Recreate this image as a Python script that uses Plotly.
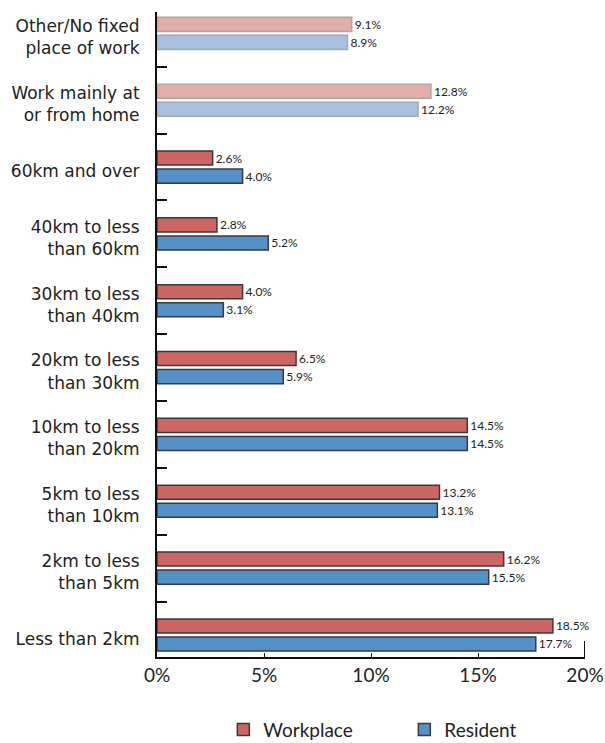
import plotly.graph_objects as go

# Data (top to bottom as shown)
categories = [
    "Other/No fixed<br>place of work",
    "Work mainly at<br>or from home",
    "60km and over",
    "40km to less<br>than 60km",
    "30km to less<br>than 40km",
    "20km to less<br>than 30km",
    "10km to less<br>than 20km",
    "5km to less<br>than 10km",
    "2km to less<br>than 5km",
    "Less than 2km",
]
workplace = [9.1, 12.8, 2.6, 2.8, 4.0, 6.5, 14.5, 13.2, 16.2, 18.5]
resident = [8.9, 12.2, 4.0, 5.2, 3.1, 5.9, 14.5, 13.1, 15.5, 17.7]
faded = [True, True, False, False, False, False, False, False, False, False]
x_ticks = [0, 5, 10, 15, 20]
x_tick_labels = ["0%", "5%", "10%", "15%", "20%"]

# plot bottom-to-top
cats = categories[::-1]
wp = workplace[::-1]
rs = resident[::-1]
fd = faded[::-1]

wp_col = ["#E3ADA8" if f else "#CB6662" for f in fd]
rs_col = ["#A9C1E1" if f else "#5591C8" for f in fd]
wp_line = ["#A8A8A8" if f else "#3A3A3A" for f in fd]
rs_line = ["#A8A8A8" if f else "#3A3A3A" for f in fd]

FONT = "Lato"
CAT_FONT = "DejaVu Sans"

fig = go.Figure()
fig.add_trace(go.Bar(
    y=cats, x=rs, orientation="h", name="Resident",
    marker=dict(color=rs_col, line=dict(color=rs_line, width=1.5)),
    text=[f"{v:.1f}%" for v in rs], textposition="outside", constraintext="none",
    textfont=dict(size=12, color="#222", family=FONT),
    cliponaxis=False, legendrank=2, hoverinfo="skip",
))
fig.add_trace(go.Bar(
    y=cats, x=wp, orientation="h", name="Workplace",
    marker=dict(color=wp_col, line=dict(color=wp_line, width=1.5)),
    text=[f"{v:.1f}%" for v in wp], textposition="outside", constraintext="none",
    textfont=dict(size=12, color="#222", family=FONT),
    cliponaxis=False, legendrank=1, hoverinfo="skip",
))

fig.update_layout(
    width=605, height=743,
    margin=dict(l=157, r=20, t=12, b=86, autoexpand=False),
    paper_bgcolor="white", plot_bgcolor="white",
    barmode="group", bargap=0.46, bargroupgap=0.22,
    font=dict(family=FONT, color="#222"),
    showlegend=True,
    legend=dict(orientation="h", x=0.155, xanchor="left", y=-0.083, yanchor="top",
                font=dict(size=19, color="#222"), entrywidth=136, traceorder="normal"),
)
fig.update_xaxes(
    range=[0, 20], tickvals=x_ticks, ticktext=x_tick_labels,
    showgrid=False, zeroline=False,
    showline=True, linecolor="#111", linewidth=2,
    ticks="inside", ticklen=4, tickwidth=1, tickcolor="#111",
    tickfont=dict(size=19, color="#222"), automargin=False,
)
fig.update_yaxes(
    categoryorder="array", categoryarray=cats,
    range=[-0.33, 9.32],
    showgrid=False, zeroline=False,
    showline=True, linecolor="#111", linewidth=2,
    ticks="inside", tickson="boundaries", ticklen=10, tickwidth=2, tickcolor="#111",
    tickfont=dict(size=17, color="#222", family=CAT_FONT), ticklabelstandoff=12,
    ticklabelshift=4, automargin=False,
)
# end tick at 20%
fig.add_shape(type="line", xref="x", yref="paper", x0=20, x1=20, y0=0, y1=0.025,
              line=dict(color="#111", width=2))

fig.write_html(
    "out.html",
    config={"displayModeBar": False},
    post_script="document.body.style.margin='0';document.body.style.overflow='hidden';",
)
